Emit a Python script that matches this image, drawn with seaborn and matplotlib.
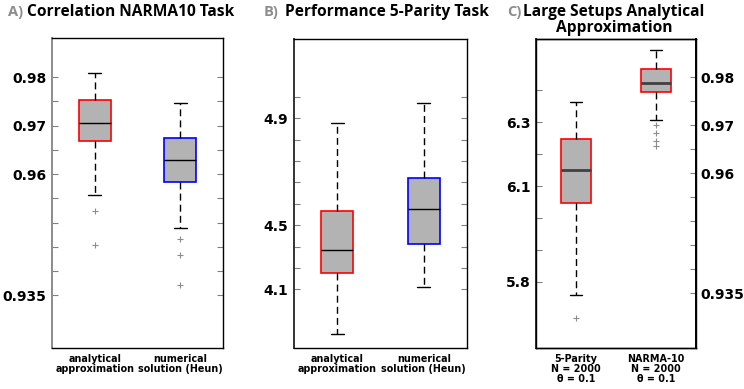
import matplotlib.pyplot as plt
import seaborn as sns

# panel A: correlation on NARMA10
narma_labels = ["analytical\napproximation", "numerical\nsolution (Heun)"]
narma_whislo = [0.9557, 0.9489]
narma_q1 = [0.9669, 0.9584]
narma_med = [0.9705, 0.9629]
narma_q3 = [0.9752, 0.9674]
narma_whishi = [0.9808, 0.9746]
narma_fliers = [[0.9524, 0.9453], [0.9466, 0.9433, 0.9371]]

# panel B: performance on 5-parity
parity_labels = ["analytical\napproximation", "numerical\nsolution (Heun)"]
parity_whislo = [3.890, 4.109]
parity_q1 = [4.178, 4.311]
parity_med = [4.284, 4.478]
parity_q3 = [4.468, 4.622]
parity_whishi = [4.877, 4.973]
parity_fliers = [[], []]

# panel C: large setups (left axis 5-parity, right axis NARMA-10)
large_labels = ["5-Parity\nN = 2000\nθ = 0.1", "NARMA-10\nN = 2000\nθ = 0.1"]
large_parity = dict(whislo=5.759, q1=6.048, med=6.150, q3=6.248, whishi=6.363,
                    fliers=[5.686])
large_narma = dict(whislo=0.9710, q1=0.9769, med=0.9789, q3=0.9817, whishi=0.9857,
                   fliers=[0.9700, 0.9683, 0.9667, 0.9657])


def make_stats(lo, q1, med, q3, hi, fliers):
    stats = []
    for i in range(len(med)):
        stats.append(dict(whislo=lo[i], q1=q1[i], med=med[i], q3=q3[i],
                          whishi=hi[i], fliers=fliers[i]))
    return stats


def draw_boxes(ax, stats, positions, edgecolors, medcolor="black", medwidth=1.0):
    res = ax.bxp(stats, positions=positions, widths=0.375, patch_artist=True,
                 capwidths=0.15, manage_ticks=False,
                 boxprops=dict(facecolor="#b3b3b3", linewidth=1.2),
                 whiskerprops=dict(color="black", linestyle=(0, (5, 3)), linewidth=1.0),
                 capprops=dict(color="black", linewidth=1.0),
                 medianprops=dict(color=medcolor, linewidth=medwidth),
                 flierprops=dict(marker="+", markersize=4, markeredgecolor="#8c8c8c",
                                 markeredgewidth=0.8, linestyle="none"))
    for box, col in zip(res["boxes"], edgecolors):
        box.set_edgecolor(col)
    return res


def style_axis(ax, ticks, ticklabels, ylim, xlabels, left_color="#333333"):
    ax.set_xlim(0.5, 2.5)
    ax.set_ylim(*ylim)
    ax.set_yticks(ticks)
    ax.set_yticklabels(ticklabels)
    ax.set_xticks([1, 2])
    ax.set_xticklabels(xlabels, fontsize=6.9, fontweight="bold", linespacing=1.0)
    ax.tick_params(axis="x", length=0, pad=4, labelcolor="black")
    ax.tick_params(axis="y", direction="in", length=4, color="#808080",
                   labelsize=10, pad=4, labelcolor="black")
    for lab in ax.get_yticklabels():
        lab.set_fontweight("bold")
    for sp in ax.spines.values():
        sp.set_color("black")
        sp.set_linewidth(1.0)
    ax.spines["left"].set_color(left_color)
    ax.spines["left"].set_linewidth(1.4)
    ax.grid(False)


sns.set_style("ticks")
plt.rcParams["font.family"] = ["DejaVu Sans"]

W, H = 744, 389
fig = plt.figure(figsize=(W / 100, H / 100), dpi=100)


def px_axes(x0, x1, y0, y1):
    return fig.add_axes([x0 / W, 1 - y1 / H, (x1 - x0) / W, (y1 - y0) / H])


# A
axA = px_axes(52, 223, 38, 348)
draw_boxes(axA, make_stats(narma_whislo, narma_q1, narma_med, narma_q3,
                           narma_whishi, narma_fliers), [1, 2], ["red", "blue"])
ticksA = [0.935, 0.94, 0.945, 0.95, 0.955, 0.96, 0.965, 0.97, 0.975, 0.98]
labelsA = ["0.935", "", "", "", "", "0.96", "", "0.97", "", "0.98"]
style_axis(axA, ticksA, labelsA, (0.9241, 0.9881), narma_labels, left_color="#8c8c8c")
axA.tick_params(axis="y", right=True)

# B
axB = px_axes(294, 467, 39, 348)
draw_boxes(axB, make_stats(parity_whislo, parity_q1, parity_med, parity_q3,
                           parity_whishi, parity_fliers), [1, 2], ["red", "blue"])
ticksB = [4.1, 4.2, 4.3, 4.4, 4.5, 4.6, 4.7, 4.8, 4.9, 5.0]
labelsB = ["4.1", "", "", "4.5", "", "", "", "", "4.9", ""]
style_axis(axB, ticksB, labelsB, (3.8254, 5.271), parity_labels)
axB.tick_params(axis="y", right=True)

# C
axC = px_axes(536, 696, 39, 348)
draw_boxes(axC, [large_parity], [1], ["red"], medcolor="#404040", medwidth=2.0)
ticksC = [5.8, 5.9, 6.0, 6.1, 6.2, 6.3, 6.4]
labelsC = ["5.8", "", "", "6.1", "", "6.3", ""]
style_axis(axC, ticksC, labelsC, (5.592, 6.561), large_labels)
axC2 = axC.twinx()
draw_boxes(axC2, [large_narma], [2], ["red"], medcolor="#404040", medwidth=2.0)
axC2.set_ylim(0.9236, 0.98798)
axC2.set_yticks(ticksA)
axC2.set_yticklabels(labelsA)
axC2.tick_params(axis="y", direction="in", length=4, color="#808080",
                 labelsize=10, pad=3, labelcolor="black")
for lab in axC2.get_yticklabels():
    lab.set_fontweight("bold")
for sp in axC2.spines.values():
    sp.set_linewidth(1.0)
    sp.set_color("black")
axC2.spines["right"].set_linewidth(1.4)
axC2.grid(False)

# panel titles
tfont = ["Open Sans", "DejaVu Sans"]


def title(x_letter, x_text, letter, text):
    fig.text(x_letter / W, 1 - 16 / H, letter, fontsize=10.5, fontweight="bold",
             color="#8c8c8c", family=tfont, va="baseline")
    fig.text(x_text / W, 1 - 16 / H, text, fontsize=11.2, fontweight="bold",
             color="black", family=tfont, va="baseline")


title(8, 27, "A)", "Correlation NARMA10 Task")
title(264, 285, "B)", "Performance 5-Parity Task")
title(507, 523, "C)", "Large Setups Analytical")
fig.text(614 / W, 1 - 32 / H, "Approximation", fontsize=11.2, fontweight="bold",
         color="black", family=tfont, va="baseline", ha="center")

fig.savefig("out.png", dpi=100)
